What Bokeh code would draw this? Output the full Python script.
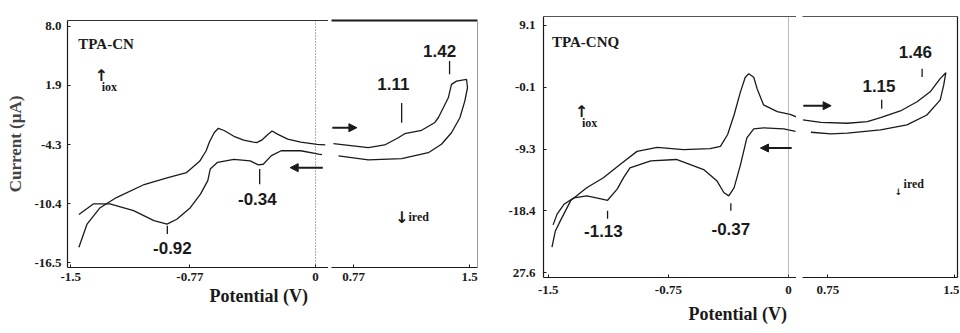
from bokeh.plotting import figure
from bokeh.layouts import row
from bokeh.models import Range1d, FixedTicker, LinearAxis, Span, Arrow, NormalHead, Title
from bokeh.core.properties import value
from bokeh.embed import file_html
from bokeh.resources import INLINE

# ---------------- TPA-CN (left chart) ----------------
cn_ox_x = [-1.45, -1.40, -1.32, -1.22, -1.05, -0.91, -0.79, -0.71, -0.67, -0.65, -0.62, -0.595,
           -0.56, -0.50, -0.44, -0.38, -0.36, -0.33, -0.29, -0.266, -0.23, -0.17, -0.09, 0.01, 0.06]
cn_ox_y = [-14.9, -12.5, -10.8, -9.75, -8.4, -7.7, -7.16, -6.0, -4.9, -4.0, -3.0, -2.57,
           -2.8, -3.4, -3.8, -4.0, -4.06, -3.8, -3.2, -2.85, -3.2, -3.7, -4.0, -4.23, -4.3]
cn_red_x = [0.04, 0.02, -0.09, -0.21, -0.27, -0.32, -0.35, -0.40, -0.50, -0.60, -0.645, -0.66,
            -0.705, -0.767, -0.85, -0.91, -0.99, -1.115, -1.26, -1.36, -1.45]
cn_red_y = [-5.3, -5.26, -4.9, -4.9, -5.4, -6.3, -6.37, -5.95, -5.8, -6.1, -6.8, -8.0,
            -9.4, -10.8, -12.0, -12.5, -12.15, -11.1, -10.4, -10.4, -11.5]
cn_pos_x = [0.642, 0.862, 0.965, 1.051, 1.091, 1.198, 1.279, 1.303, 1.366, 1.386, 1.418, 1.481,
            1.487, 1.47, 1.439, 1.386, 1.323, 1.24, 1.072, 0.862, 0.674]
cn_pos_y = [-4.17, -4.58, -4.3, -3.55, -3.13, -2.78, -2.0, -1.48, 0.59, 1.98, 2.32, 2.49,
            1.63, 0.25, -1.48, -3.03, -4.23, -5.1, -5.72, -5.85, -5.44]

cn_yticks = [8.0, 1.9, -4.3, -10.4, -16.5]
cn_ytick_labels = ["8.0", "1.9", "-4.3", "-10.4", "-16.5"]
cn_xticks_neg = [-1.5, -0.77, 0.0]
cn_xtick_labels_neg = ["-1.5", "-0.77", "0"]
cn_xticks_pos = [0.77, 1.5]
cn_xtick_labels_pos = ["0.77", "1.5"]

cn_peaks_neg = ["-0.92", "-0.34"]
cn_peaks_neg_lx = [-0.877, -0.356]
cn_peaks_neg_ly = [-14.95, -9.88]
cn_peaks_neg_tx = [-0.908, -0.342]
cn_peaks_neg_ty0 = [-12.68, -6.8]
cn_peaks_neg_ty1 = [-13.54, -8.36]

cn_peaks_pos = ["1.11", "1.42"]
cn_peaks_pos_lx = [1.02, 1.311]
cn_peaks_pos_ly = [2.0, 5.42]
cn_peaks_pos_tx = [1.072, 1.374]
cn_peaks_pos_ty0 = [0.04, 4.39]
cn_peaks_pos_ty1 = [-2.0, 3.04]

# ---------------- TPA-CNQ (right chart) ----------------
cnq_ox_x = [-1.477, -1.456, -1.425, -1.36, -1.26, -1.156, -1.05, -0.946, -0.82, -0.656, -0.49,
            -0.425, -0.38, -0.34, -0.30, -0.27, -0.248, -0.217, -0.196, -0.156, -0.07, 0.01, 0.05]
cnq_ox_y = [-23.8, -21.4, -19.9, -16.9, -15.0, -13.5, -11.5, -9.6, -9.0, -9.35, -9.2,
            -8.86, -7.1, -4.2, -0.77, 1.4, 1.9, 1.4, -0.3, -2.7, -3.7, -4.1, -4.5]
cnq_red_x = [0.044, -0.03, -0.155, -0.217, -0.26, -0.30, -0.34, -0.373, -0.404, -0.446, -0.53,
             -0.70, -0.86, -0.99, -1.03, -1.07, -1.13, -1.20, -1.26, -1.34, -1.40, -1.445, -1.47]
cnq_red_y = [-6.65, -6.25, -6.1, -6.25, -7.6, -11.6, -15.0, -16.2, -15.7, -14.0, -12.3,
             -10.8, -11.0, -12.05, -13.5, -15.2, -16.85, -16.5, -16.2, -16.5, -17.4, -18.9, -20.5]
cnq_pos_x = [0.602, 0.709, 0.866, 0.985, 1.063, 1.181, 1.28, 1.358, 1.417, 1.451,
             1.438, 1.417, 1.338, 1.22, 1.063, 0.866, 0.768, 0.65]
cnq_pos_y = [-4.93, -5.29, -5.43, -5.18, -4.59, -3.61, -2.24, -0.77, 1.19, 2.07,
             0.21, -1.99, -4.2, -5.67, -6.4, -6.9, -6.99, -6.76]

cnq_yticks = [9.1, -0.1, -9.3, -18.4, -27.6]
cnq_ytick_labels = ["9.1", "-0.1", "-9.3", "-18.4", "27.6"]
cnq_xticks_neg = [-1.5, -0.75, 0.0]
cnq_xtick_labels_neg = ["-1.5", "-0.75", "0"]
cnq_xticks_pos = [0.75, 1.5]
cnq_xtick_labels_pos = ["0.75", "1.5"]

cnq_peaks_neg = ["-1.13", "-0.37"]
cnq_peaks_neg_lx = [-1.156, -0.36]
cnq_peaks_neg_ly = [-21.4, -21.1]
cnq_peaks_neg_tx = [-1.13, -0.36]
cnq_peaks_neg_ty0 = [-18.4, -17.3]
cnq_peaks_neg_ty1 = [-19.6, -18.4]

cnq_peaks_pos = ["1.15", "1.46"]
cnq_peaks_pos_lx = [1.054, 1.27]
cnq_peaks_pos_ly = [0.1, 5.2]
cnq_peaks_pos_tx = [1.07, 1.31]
cnq_peaks_pos_ty0 = [-1.95, 2.66]
cnq_peaks_pos_ty1 = [-3.27, 1.44]

INK = "#1a1a1a"
SERIF = "Liberation Serif"
SANS = "Liberation Sans"
ARROWFONT = "DejaVu Sans"


def panel(width, height, xr, yr, bl, br, bt, bb):
    p = figure(width=width, height=height, x_range=Range1d(*xr), y_range=Range1d(*yr),
               x_axis_location=None, y_axis_location=None,
               output_backend="svg", toolbar_location=None,
               min_border_left=bl, min_border_right=br, min_border_top=bt, min_border_bottom=bb)
    p.outline_line_color = None
    p.xgrid.visible = False
    p.ygrid.visible = False
    return p


def axis(p, loc, ticks, labels=None, standoff=5, color=INK, width=1.2, tick_in=3):
    ax = LinearAxis(ticker=FixedTicker(ticks=list(ticks)))
    ax.axis_line_color = color
    ax.axis_line_width = width
    ax.major_tick_in = tick_in
    ax.major_tick_out = 0
    ax.major_tick_line_color = color
    ax.minor_tick_line_color = None
    ax.major_label_standoff = standoff
    if labels is not None:
        ax.major_label_overrides = {float(t): l for t, l in zip(ticks, labels)}
        ax.major_label_text_font = SERIF
        ax.major_label_text_font_style = "bold"
        ax.major_label_text_font_size = "13px"
        ax.major_label_text_color = INK
    p.add_layout(ax, loc)
    return ax


def curve(p, xs, ys):
    p.line(xs, ys, line_color=INK, line_width=1.3)


def peaks(p, names, lx, ly, tx, ty0, ty1):
    p.segment(x0=tx, y0=ty0, x1=tx, y1=ty1, line_color=INK, line_width=1.3)
    p.text(x=lx, y=ly, text=names, text_font=value(SANS), text_font_style="bold",
           text_font_size="17px", text_align="center", text_baseline="middle", text_color=INK)


def word(p, x, y, s, size, font=SERIF, style="bold", align="left"):
    p.text(x=[x], y=[y], text=[s], text_font=value(font), text_font_style=style,
           text_font_size=size, text_align=align, text_baseline="middle", text_color=INK)


def arrow(p, x0, x1, y):
    p.add_layout(Arrow(end=NormalHead(size=8, fill_color=INK, line_color=INK),
                       x_start=x0, y_start=y, x_end=x1, y_end=y,
                       line_color=INK, line_width=2))


def xtitle(p, offset, standoff):
    p.add_layout(Title(text="Potential (V)", align="left", offset=offset,
                       text_font=SERIF, text_font_style="bold", text_font_size="18px",
                       text_color=INK, standoff=standoff), "below")


H = 332

# ---- TPA-CN, negative potentials ----
a = panel(328, H, (-1.52, 0.08), (-17.0, 8.6), 67, 0, 20, H - 20 - 247)
ya = axis(a, "left", cn_yticks, cn_ytick_labels, standoff=6)
ya.axis_label = "Current (\u03bcA)"
ya.axis_label_text_font = SERIF
ya.axis_label_text_font_style = "bold"
ya.axis_label_text_font_size = "17px"
ya.axis_label_standoff = 6
axis(a, "below", cn_xticks_neg, cn_xtick_labels_neg, standoff=5)
axis(a, "above", [], None, width=1.0, color="#333")
xtitle(a, 142, 0)
a.add_layout(Span(location=0, dimension="height", line_color="#555", line_dash="1 2", line_width=1))
curve(a, cn_ox_x, cn_ox_y)
curve(a, cn_red_x, cn_red_y)
peaks(a, cn_peaks_neg, cn_peaks_neg_lx, cn_peaks_neg_ly, cn_peaks_neg_tx, cn_peaks_neg_ty0, cn_peaks_neg_ty1)
word(a, -1.454, 6.14, "TPA-CN", "15px")
word(a, -1.355, 2.9, "\u2191", "16px", font=ARROWFONT, style="bold")
word(a, -1.31, 1.7, "iox", "12px")
arrow(a, 0.045, -0.155, -6.65)

# ---- TPA-CN, positive potentials ----
b = panel(152, H, (0.63, 1.55), (-17.0, 8.6), 3, 3, 20, H - 20 - 247)
axis(b, "below", cn_xticks_pos, cn_xtick_labels_pos, standoff=5)
axis(b, "above", [], None, width=1.8)
axis(b, "right", [], None, color="#999", width=1.0)
curve(b, cn_pos_x, cn_pos_y)
peaks(b, cn_peaks_pos, cn_peaks_pos_lx, cn_peaks_pos_ly, cn_peaks_pos_tx, cn_peaks_pos_ty0, cn_peaks_pos_ty1)
word(b, 1.072, -11.8, "\u2193", "16px", font=ARROWFONT, style="bold", align="center")
word(b, 1.115, -11.8, "ired", "12px")
arrow(b, 0.635, 0.79, -2.51)

# ---- TPA-CNQ, negative potentials ----
c = panel(316, H, (-1.53, 0.05), (-28.3, 10.4), 63, 0, 16, H - 16 - 261)
axis(c, "left", cnq_yticks, cnq_ytick_labels, standoff=8)
axis(c, "below", cnq_xticks_neg, cnq_xtick_labels_neg, standoff=8)
axis(c, "above", [], None, width=1.0, color="#555")
xtitle(c, 145, 10)
c.add_layout(Span(location=0, dimension="height", line_color="#777", line_dash="1 1", line_width=1))
curve(c, cnq_ox_x, cnq_ox_y)
curve(c, cnq_red_x, cnq_red_y)
peaks(c, cnq_peaks_neg, cnq_peaks_neg_lx, cnq_peaks_neg_ly, cnq_peaks_neg_tx, cnq_peaks_neg_ty0, cnq_peaks_neg_ty1)
word(c, -1.477, 6.69, "TPA-CNQ", "15px")
word(c, -1.335, -3.71, "\u2191", "16px", font=ARROWFONT, style="bold")
word(c, -1.29, -5.33, "iox", "12px")
arrow(c, 0.02, -0.175, -9.1)

# ---- TPA-CNQ, positive potentials ----
d = panel(163, H, (0.60, 1.52), (-28.3, 10.4), 6, 2, 16, H - 16 - 261)
axis(d, "below", cnq_xticks_pos, cnq_xtick_labels_pos, standoff=8)
axis(d, "above", [], None, width=1.0, color="#555")
axis(d, "right", [], None, width=1.2)
curve(d, cnq_pos_x, cnq_pos_y)
peaks(d, cnq_peaks_pos, cnq_peaks_pos_lx, cnq_peaks_pos_ly, cnq_peaks_pos_tx, cnq_peaks_pos_ty0, cnq_peaks_pos_ty1)
word(d, 1.17, -15.6, "\u2193", "9px", font=ARROWFONT, style="bold", align="center")
word(d, 1.20, -14.45, "ired", "12px")
arrow(d, 0.605, 0.77, -2.83)

layout = row(row(a, b), row(c, d))
open("out.html", "w").write(file_html(layout, INLINE))
